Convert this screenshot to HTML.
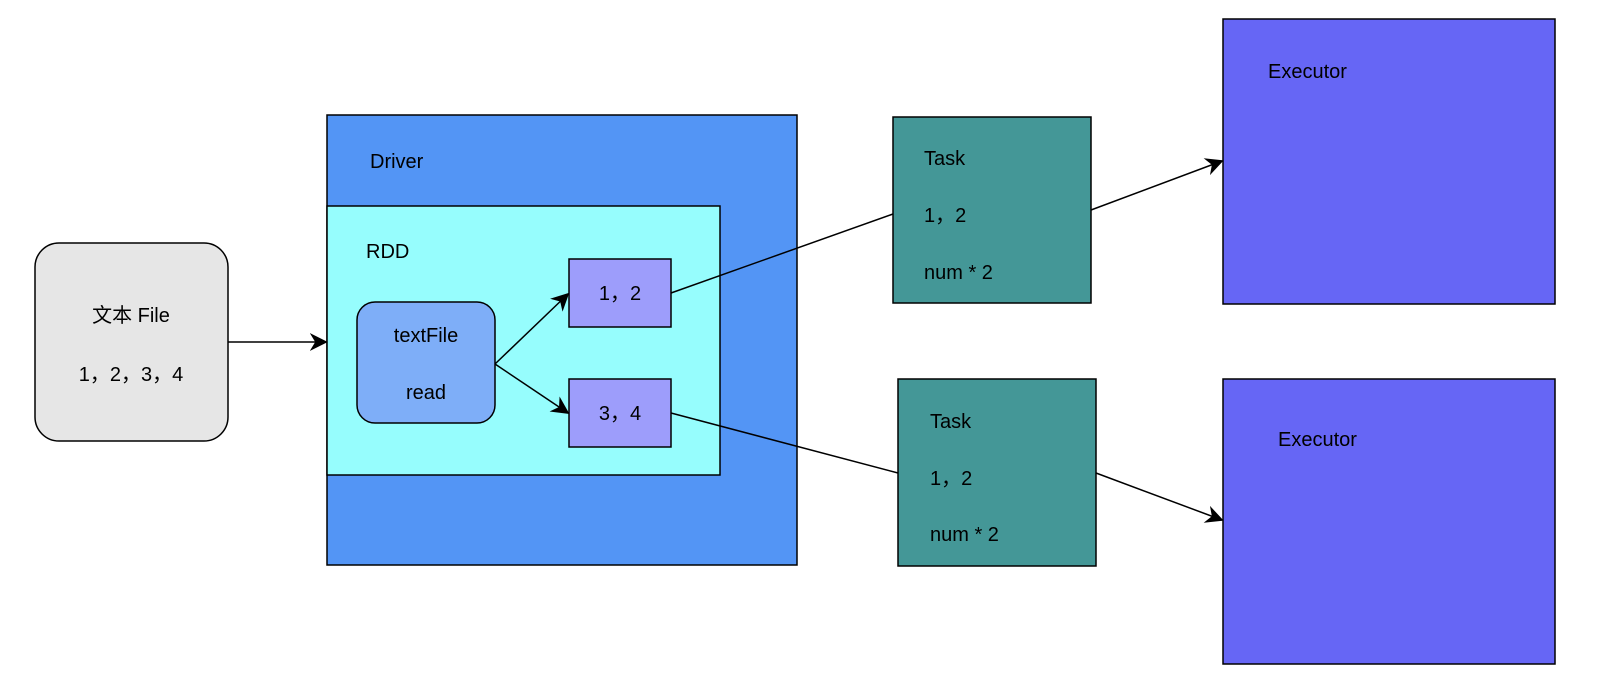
<!DOCTYPE html>
<html><head><meta charset="utf-8"><style>
html,body{margin:0;padding:0;background:#fff;}
svg text{font-family:"Liberation Sans",sans-serif;font-size:20px;fill:#000;}
.c{font-family:"Noto Sans CJK SC",sans-serif;}
</style></head><body>
<svg width="1618" height="686" viewBox="0 0 1618 686" xmlns="http://www.w3.org/2000/svg">
<defs><marker id="b" viewBox="0 0 10 10" refX="9" refY="5" markerWidth="18" markerHeight="18" markerUnits="userSpaceOnUse" orient="auto"><path d="M0,0 L10,5 L0,10 L3,5 z" fill="#000"/></marker></defs>
<rect x="35" y="243" width="193" height="198" rx="24" fill="#e6e6e6" stroke="#000" stroke-width="1.5"/>
<text x="131" y="322" text-anchor="middle"><tspan class="c">文本</tspan> File</text>
<text x="131" y="381" text-anchor="middle">1<tspan class="c">，</tspan>2<tspan class="c">，</tspan>3<tspan class="c">，</tspan>4</text>
<rect x="327" y="115" width="470" height="450" fill="#5395f5" stroke="#000" stroke-width="1.5"/>
<text x="370" y="168">Driver</text>
<rect x="327" y="206" width="393" height="269" fill="#96fdfd" stroke="#000" stroke-width="1.5"/>
<text x="366" y="258">RDD</text>
<rect x="357" y="302" width="138" height="121" rx="18" fill="#7eaef8" stroke="#000" stroke-width="1.5"/>
<text x="426" y="342" text-anchor="middle">textFile</text>
<text x="426" y="399" text-anchor="middle">read</text>
<rect x="569" y="259" width="102" height="68" fill="#9d9dfb" stroke="#000" stroke-width="1.5"/>
<text x="620" y="300" text-anchor="middle">1<tspan class="c">，</tspan>2</text>
<rect x="569" y="379" width="102" height="68" fill="#9d9dfb" stroke="#000" stroke-width="1.5"/>
<text x="620" y="420" text-anchor="middle">3<tspan class="c">，</tspan>4</text>
<rect x="893" y="117" width="198" height="186" fill="#449797" stroke="#000" stroke-width="1.5"/>
<text x="924" y="165">Task</text><text x="924" y="222">1<tspan class="c">，</tspan>2</text><text x="924" y="279">num * 2</text>
<rect x="898" y="379" width="198" height="187" fill="#449797" stroke="#000" stroke-width="1.5"/>
<text x="930" y="428">Task</text><text x="930" y="485">1<tspan class="c">，</tspan>2</text><text x="930" y="541">num * 2</text>
<rect x="1223" y="19" width="332" height="285" fill="#6666f5" stroke="#000" stroke-width="1.5"/>
<text x="1268" y="78">Executor</text>
<rect x="1223" y="379" width="332" height="285" fill="#6666f5" stroke="#000" stroke-width="1.5"/>
<text x="1278" y="446">Executor</text>
<g stroke="#000" stroke-width="1.5" fill="none">
<line x1="228" y1="342" x2="326" y2="342" marker-end="url(#b)"/>
<line x1="495" y1="364" x2="568" y2="294" marker-end="url(#b)"/>
<line x1="495" y1="364" x2="568" y2="413" marker-end="url(#b)"/>
<line x1="671" y1="293" x2="893" y2="214"/>
<line x1="1091" y1="210" x2="1222" y2="161" marker-end="url(#b)"/>
<line x1="671" y1="413" x2="898" y2="473"/>
<line x1="1096" y1="473" x2="1222" y2="520" marker-end="url(#b)"/>
</g>
</svg>
</body></html>
